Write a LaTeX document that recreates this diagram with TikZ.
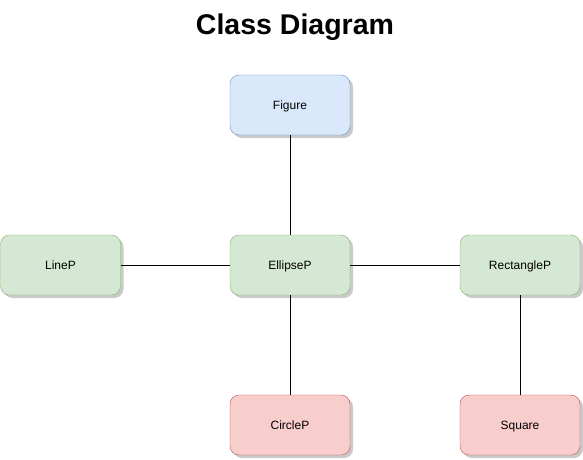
\documentclass[tikz,border=0pt]{standalone}
\usepackage{fontspec}
\setmainfont{Liberation Sans}
\usetikzlibrary{shadows}
\definecolor{blueFill}{HTML}{DAE8FC}
\definecolor{blueLine}{HTML}{6C8EBF}
\definecolor{greenFill}{HTML}{D5E8D4}
\definecolor{greenLine}{HTML}{82B366}
\definecolor{redFill}{HTML}{F8CECC}
\definecolor{redLine}{HTML}{B85450}
\tikzset{
    classbox/.style={draw, rounded corners=9pt, minimum width=120pt, minimum height=60pt,
        inner sep=0pt, text height=8pt, text depth=0pt, font=\fontsize{12}{14}\selectfont,
        drop shadow={shadow xshift=3pt, shadow yshift=-3pt, fill=black!35, opacity=0.6}},
    bluebox/.style={classbox, fill=blueFill, draw=blueLine},
    greenbox/.style={classbox, fill=greenFill, draw=greenLine},
    redbox/.style={classbox, fill=redFill, draw=redLine},
    link/.style={draw=black, line width=0.8pt}
}
\begin{document}
\begin{tikzpicture}[x=1pt, y=-1pt]
            \useasboundingbox (0, 0) rectangle (583, 459);

            \node[font=\bfseries\fontsize{28.5}{32}\selectfont] (title) at (295, 27.5) {Class Diagram};

            \node[bluebox] (figure) at (290, 105) {Figure};
            \node[greenbox] (linep) at (60.5, 265) {LineP};
            \node[greenbox] (ellipsep) at (290, 265) {EllipseP};
            \node[greenbox] (rectanglep) at (520, 265) {RectangleP};
            \node[redbox] (circlep) at (290, 425) {CircleP};
            \node[redbox] (square) at (520, 425) {Square};

            \draw[link] (figure) -- (ellipsep);
            \draw[link] (linep) -- (ellipsep);
            \draw[link] (ellipsep) -- (rectanglep);
            \draw[link] (ellipsep) -- (circlep);
            \draw[link] (rectanglep) -- (square);
        \end{tikzpicture}
\end{document}
